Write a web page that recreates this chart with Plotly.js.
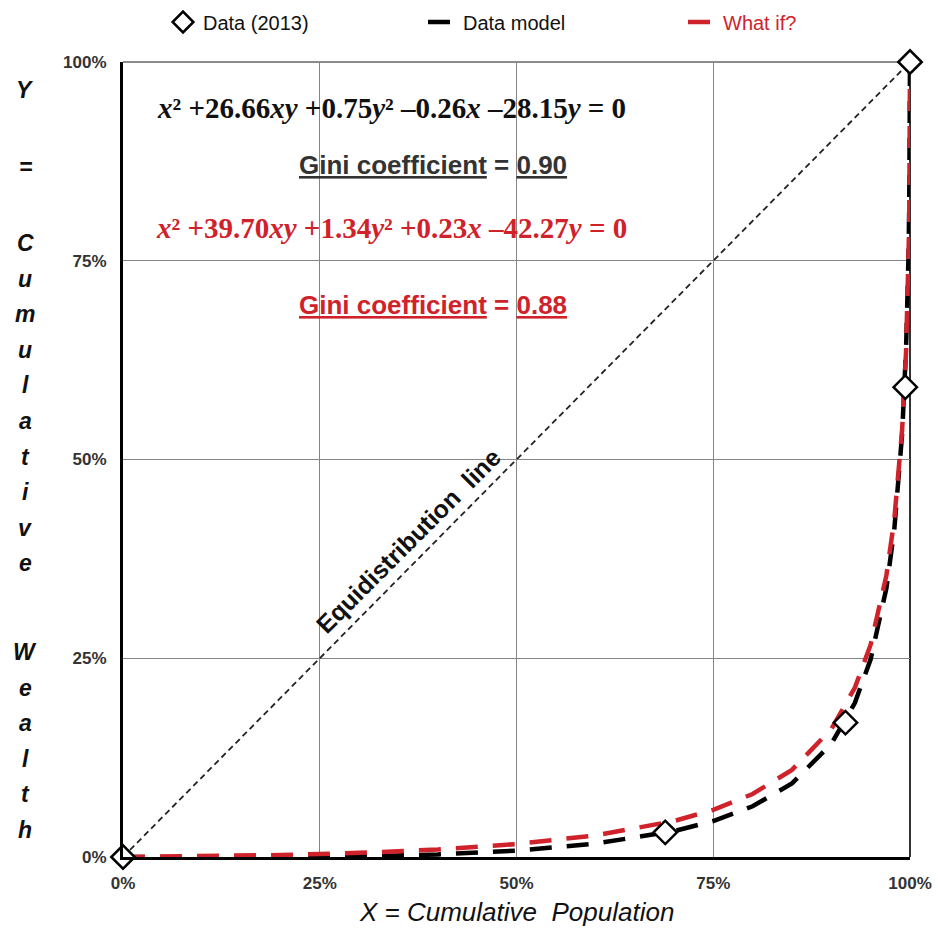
<!DOCTYPE html>
<html>
<head>
<meta charset="utf-8">
<script src="https://cdn.plot.ly/plotly-3.0.1.min.js"></script>
<style>html,body{margin:0;padding:0;background:#fff;}#chart{width:938px;height:932px;}</style>
</head>
<body>
<div id="chart"></div>
<script>
// ---- data ----
const dataX = [0, 0.689, 0.918, 0.994, 1.0];
const dataY = [0, 0.031, 0.169, 0.591, 1.0];

const modelX = [0, 0.1, 0.2, 0.3, 0.4, 0.5, 0.6, 0.7, 0.75, 0.8, 0.85, 0.9, 0.93, 0.95, 0.97, 0.98, 0.99, 0.995, 0.998, 0.999, 1.0];
const modelY = [0, 0, 0, 0.0006, 0.0032, 0.0081, 0.0168, 0.0325, 0.0453, 0.0638, 0.0925, 0.1423, 0.194, 0.2487, 0.338, 0.4116, 0.532, 0.640, 0.753, 0.815, 1.0];

const whatIfX = [0, 0.1, 0.2, 0.3, 0.4, 0.5, 0.6, 0.7, 0.75, 0.8, 0.85, 0.9, 0.93, 0.95, 0.97, 0.98, 0.99, 0.995, 0.998, 0.999, 1.0];
const whatIfY = [0, 0.0009, 0.0025, 0.0052, 0.0095, 0.0163, 0.0271, 0.0452, 0.0592, 0.0793, 0.1096, 0.1608, 0.2131, 0.2671, 0.3542, 0.4241, 0.5377, 0.636, 0.738, 0.795, 1.0];

const equalX = [0, 1];
const equalY = [0, 1];

const tickVals = [0, 0.25, 0.5, 0.75, 1];
const tickText = ['0%', '25%', '50%', '75%', '100%'];

const seriesNames = ['Data (2013)', 'Data model', 'What if?'];
const eqModel = '<i>x</i>\u00B2 +26.66<i>xy</i> +0.75<i>y</i>\u00B2 \u20130.26<i>x</i> \u201328.15<i>y</i> = 0';
const eqWhatIf = '<i>x</i>\u00B2 +39.70<i>xy</i> +1.34<i>y</i>\u00B2 +0.23<i>x</i> \u201342.27<i>y</i> = 0';
const giniModel = '0.90';
const giniWhatIf = '0.88';
const yTitleWords = ['Y', '=', 'Cumulative', 'Wealth'];

const RED = '#d0222b';
const SANS = 'Liberation Sans, Arial, sans-serif';
const SERIF = 'Liberation Serif, Times New Roman, serif';

const traces = [
  {x: equalX, y: equalY, mode: 'lines', showlegend: false, hoverinfo: 'skip',
   line: {color: '#222', width: 1.8, dash: '6px,4px'}},
  {x: modelX, y: modelY, mode: 'lines', name: seriesNames[1], legendrank: 2,
   line: {color: '#000', width: 4.5, dash: '22px,15px'}},
  {x: whatIfX, y: whatIfY, mode: 'lines', name: '<span style="color:' + RED + '">' + seriesNames[2] + '</span>', legendrank: 3,
   line: {color: RED, width: 4.5, dash: '22px,15px'}},
  {x: dataX, y: dataY, mode: 'markers', name: seriesNames[0], legendrank: 1, cliponaxis: false,
   marker: {symbol: 'diamond', size: 18, color: '#fff', line: {color: '#000', width: 2.5}}}
];

const annotations = [];
function px2y(py) { return (857 - py) / 795; }
function px2x(px) { return (px - 123) / 787; }

annotations.push({xref: 'paper', yref: 'paper', x: px2x(391), y: px2y(108), text: '<b>' + eqModel + '</b>', showarrow: false,
  font: {family: SERIF, size: 29, color: '#111'}, xanchor: 'center', yanchor: 'middle'});
annotations.push({xref: 'paper', yref: 'paper', x: px2x(433), y: px2y(165), text: '<b><u>Gini coefficient</u> = <u>' + giniModel + '</u></b>', showarrow: false,
  font: {family: SANS, size: 26, color: '#333'}, xanchor: 'center', yanchor: 'middle'});
annotations.push({xref: 'paper', yref: 'paper', x: px2x(391), y: px2y(228), text: '<b>' + eqWhatIf + '</b>', showarrow: false,
  font: {family: SERIF, size: 29, color: RED}, xanchor: 'center', yanchor: 'middle'});
annotations.push({xref: 'paper', yref: 'paper', x: px2x(433), y: px2y(305), text: '<b><u>Gini coefficient</u> = <u>' + giniWhatIf + '</u></b>', showarrow: false,
  font: {family: SANS, size: 26, color: RED}, xanchor: 'center', yanchor: 'middle'});
annotations.push({xref: 'paper', yref: 'paper', x: px2x(408), y: px2y(541), text: '<b>Equidistribution  line</b>', showarrow: false, textangle: -45,
  font: {family: SANS, size: 25, color: '#111'}, xanchor: 'center', yanchor: 'middle'});
annotations.push({xref: 'paper', yref: 'paper', x: 0.5, y: px2y(912), text: '<i>X = Cumulative  Population</i>', showarrow: false,
  font: {family: SANS, size: 26, color: '#111'}, xanchor: 'center', yanchor: 'middle'});

// vertical stacked y title
const letterRows = [];
letterRows.push([yTitleWords[0], 90]);
letterRows.push([yTitleWords[1], 167]);
yTitleWords[2].split('').forEach((c, i) => letterRows.push([c, 243 + i * 35.6]));
yTitleWords[3].split('').forEach((c, i) => letterRows.push([c, 652 + i * 35.6]));
letterRows.forEach(([c, py]) => {
  annotations.push({xref: 'paper', yref: 'paper', x: px2x(25), y: px2y(py), text: '<b><i>' + c + '</i></b>', showarrow: false,
    font: {family: SANS, size: 23, color: '#111'}, xanchor: 'center', yanchor: 'middle'});
});

const layout = {
  width: 938, height: 932,
  margin: {l: 123, r: 28, t: 62, b: 75, autoexpand: false},
  paper_bgcolor: '#fff', plot_bgcolor: '#fff',
  showlegend: true,
  legend: {orientation: 'h', x: px2x(163), y: px2y(22), xanchor: 'left', yanchor: 'middle',
    font: {family: SANS, size: 20, color: '#111'}, entrywidth: 215, entrywidthmode: 'pixels', bgcolor: 'rgba(0,0,0,0)'},
  xaxis: {range: [0, 1], tickvals: tickVals, ticktext: tickText, showgrid: true, gridcolor: '#858585', gridwidth: 1.2,
    zeroline: false, showline: true, linecolor: '#000', linewidth: 3, ticks: '', ticklabelstandoff: 9,
    tickfont: {family: SANS, size: 17, color: '#333', weight: 'bold'}, fixedrange: true},
  yaxis: {range: [0, 1], tickvals: tickVals, ticktext: tickText, showgrid: true, gridcolor: '#858585', gridwidth: 1.2,
    zeroline: false, showline: true, linecolor: '#000', linewidth: 3, ticks: '', ticklabelstandoff: 10,
    tickfont: {family: SANS, size: 17, color: '#333', weight: 'bold'}, fixedrange: true},
  shapes: [
    {type: 'line', xref: 'paper', yref: 'paper', x0: 1, x1: 1, y0: 0, y1: 1, line: {color: '#333', width: 2}, layer: 'below'},
    {type: 'line', xref: 'paper', yref: 'paper', x0: 0, x1: 1, y0: 1, y1: 1, line: {color: '#666', width: 1.5}, layer: 'below'}
  ],
  annotations: annotations
};

Plotly.newPlot('chart', traces, layout, {displayModeBar: false, staticPlot: true});
</script>
</body>
</html>
